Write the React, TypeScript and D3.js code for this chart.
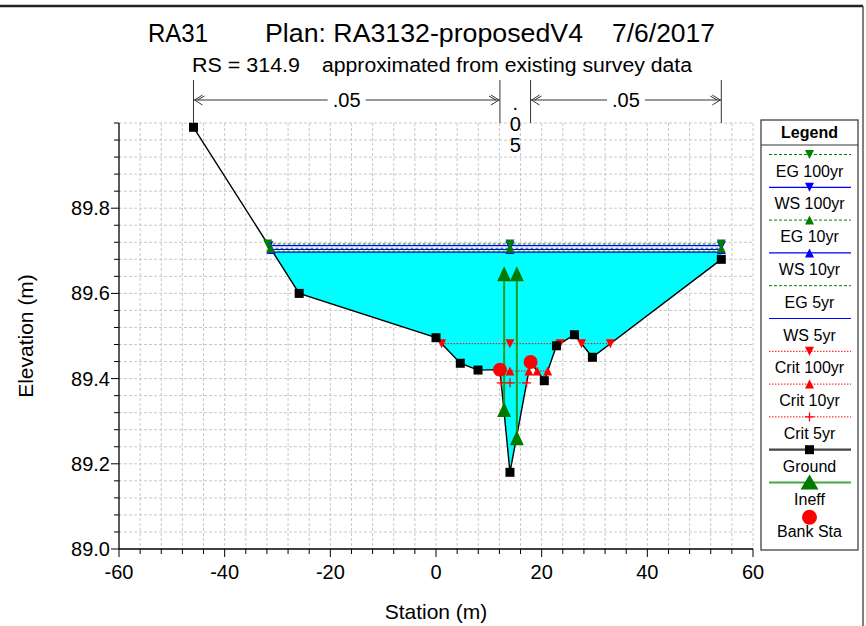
import React from 'react';
import * as d3 from 'd3';

// ground survey points (station m, elevation m)
const groundSta = [-45.9, -25.9, 0, 4.6, 7.95, 12.1, 14.0, 17.9, 20.5, 22.8, 26.2, 29.6, 54.0];
const groundElev = [89.99, 89.6, 89.496, 89.436, 89.42, 89.421, 89.18, 89.439, 89.395, 89.477, 89.503, 89.45, 89.68];

const bankSta = [12.1, 17.9];
const bankElev = [89.421, 89.439];

// water surface / energy / critical profiles
const profileNames = ['EG 100yr', 'WS 100yr', 'EG 10yr', 'WS 10yr', 'EG 5yr', 'WS 5yr', 'Crit 100yr', 'Crit 10yr', 'Crit 5yr'];
const profileElev = [89.716, 89.712, 89.706, 89.703, 89.699, 89.697, 89.482, 89.418, 89.39];

// ineffective flow limits
const ineffSta = [12.9, 15.3];
const ineffTop = [89.645, 89.645];
const ineffBottom = [89.326, 89.26];

// Manning's n breaks
const nSta = [-45.9, 12.1, 17.9, 54.0];
const nValues = ['.05', '.05', '.05'];

const xTicks = [-60, -40, -20, 0, 20, 40, 60];
const yTicks = [89.0, 89.2, 89.4, 89.6, 89.8];

type Marker = 'down' | 'up' | 'plus' | 'none';
const profileStyle: Record<string, { color: string; dash: string; width: number; marker: Marker }> = {
  'EG 100yr': { color: '#008000', dash: '3,2', width: 1, marker: 'down' },
  'WS 100yr': { color: '#0000ff', dash: '', width: 1.2, marker: 'down' },
  'EG 10yr': { color: '#008000', dash: '3,2', width: 1, marker: 'up' },
  'WS 10yr': { color: '#0000ff', dash: '', width: 1.2, marker: 'up' },
  'EG 5yr': { color: '#008000', dash: '3,2', width: 1, marker: 'none' },
  'WS 5yr': { color: '#0000ff', dash: '', width: 1.2, marker: 'none' },
  'Crit 100yr': { color: '#ff0000', dash: '1.5,1.5', width: 1, marker: 'down' },
  'Crit 10yr': { color: '#ff0000', dash: '1.5,1.5', width: 1, marker: 'up' },
  'Crit 5yr': { color: '#ff0000', dash: '1.5,1.5', width: 1, marker: 'plus' },
};

const FONT = '"Liberation Sans", Arial, sans-serif';
const W = 866;
const H = 626;
const plot = { left: 119, right: 753, top: 123, bottom: 549 };

const x = d3.scaleLinear().domain([-60, 60]).range([plot.left, plot.right]);
const y = d3.scaleLinear().domain([89, 90]).range([plot.bottom, plot.top]);

const groundAt = (s: number) => {
  for (let i = 0; i < groundSta.length - 1; i++) {
    if (s >= groundSta[i] && s <= groundSta[i + 1]) {
      const t = (s - groundSta[i]) / (groundSta[i + 1] - groundSta[i]);
      return groundElev[i] + t * (groundElev[i + 1] - groundElev[i]);
    }
  }
  return groundElev[groundElev.length - 1];
};

// parts of the section where the ground is below a given elevation
function wetSegments(elev: number): [number, number][] {
  const segs: [number, number][] = [];
  let start: number | null = groundElev[0] < elev ? groundSta[0] : null;
  for (let i = 0; i < groundSta.length - 1; i++) {
    const z0 = groundElev[i];
    const z1 = groundElev[i + 1];
    if ((z0 - elev) * (z1 - elev) < 0) {
      const xc = groundSta[i] + ((elev - z0) / (z1 - z0)) * (groundSta[i + 1] - groundSta[i]);
      if (z0 > elev) start = xc;
      else {
        segs.push([start as number, xc]);
        start = null;
      }
    }
  }
  if (start !== null) segs.push([start, groundSta[groundSta.length - 1]]);
  return segs;
}

const thalweg = groundSta[d3.minIndex(groundElev)];

function MarkerShape({ type, cx, cy, size, color }: { type: Marker; cx: number; cy: number; size: number; color: string }) {
  const h = size / 2;
  if (type === 'down') return <path d={`M${cx - h},${cy - h} L${cx + h},${cy - h} L${cx},${cy + h} Z`} fill={color} />;
  if (type === 'up') return <path d={`M${cx - h},${cy + h} L${cx + h},${cy + h} L${cx},${cy - h} Z`} fill={color} />;
  if (type === 'plus')
    return <path d={`M${cx - h},${cy} L${cx + h},${cy} M${cx},${cy - h} L${cx},${cy + h}`} stroke={color} strokeWidth={1.3} />;
  return null;
}

const line = d3.line<[number, number]>().x((d) => x(d[0])).y((d) => y(d[1]));

export default function App() {
  const xMinor = d3.range(-60, 60.001, 4);
  const yMinor = d3.range(89, 90.001, 0.04);

  // water fill below the lowest water surface
  const fillElev = profileElev[profileNames.indexOf('WS 5yr')];
  const fills = wetSegments(fillElev).map(([a, b]) => {
    const pts: [number, number][] = [[a, fillElev], [b, fillElev], [b, groundAt(b)]];
    for (let i = groundSta.length - 1; i >= 0; i--) {
      if (groundSta[i] > a && groundSta[i] < b) pts.push([groundSta[i], groundElev[i]]);
    }
    pts.push([a, groundAt(a)]);
    return line(pts) + 'Z';
  });

  const groundPts = groundSta.map((s, i) => [s, groundElev[i]] as [number, number]);

  const legendX0 = 761;
  const legendX1 = 858;
  const legendCx = (legendX0 + legendX1) / 2;
  const legendItems = [...profileNames, 'Ground', 'Ineff', 'Bank Sta'];

  const nY = 100;

  // WS drawn first so the EG markers sit on top
  const drawOrder = ['WS 5yr', 'EG 5yr', 'WS 10yr', 'WS 100yr', 'EG 10yr', 'EG 100yr', 'Crit 100yr', 'Crit 10yr', 'Crit 5yr'];

  return (
    <svg width={W} height={H} style={{ position: 'absolute', left: 0, top: 0, background: '#fff' }} fontFamily={FONT}>
      <rect x={0} y={0} width={W} height={H} fill="#fff" />
      {/* window frame */}
      <line x1={0} x2={863} y1={6} y2={6} stroke="#222" strokeWidth={2.5} />
      <line x1={863} x2={863} y1={6} y2={H} stroke="#555" strokeWidth={1.5} />

      {/* titles */}
      <g fontSize={26} fill="#000">
        <text x={148} y={42} textLength={60} lengthAdjust="spacingAndGlyphs">RA31</text>
        <text x={265} y={42} textLength={318} lengthAdjust="spacingAndGlyphs">Plan: RA3132-proposedV4</text>
        <text x={612} y={42} textLength={103} lengthAdjust="spacingAndGlyphs">7/6/2017</text>
      </g>
      <g fontSize={20} fill="#000">
        <text x={192} y={72} textLength={108} lengthAdjust="spacingAndGlyphs">RS = 314.9</text>
        <text x={322} y={72} textLength={370} lengthAdjust="spacingAndGlyphs">approximated from existing survey data</text>
      </g>

      {/* grid */}
      <g stroke="#c8c8c8" strokeWidth={1} strokeDasharray="3,2">
        {xMinor.filter((v) => v > -60).map((v) => (
          <line key={'gx' + v} x1={x(v)} x2={x(v)} y1={plot.top} y2={plot.bottom} />
        ))}
        {yMinor.filter((v) => v > 89.001).map((v) => (
          <line key={'gy' + v} x1={plot.left} x2={plot.right} y1={y(v)} y2={y(v)} />
        ))}
      </g>

      {/* water fill */}
      {fills.map((d, i) => (
        <path key={'f' + i} d={d} fill="#00ffff" />
      ))}

      {/* ground */}
      <path d={line(groundPts) || ''} fill="none" stroke="#000" strokeWidth={1.4} />

      {/* WS / EG / Crit lines */}
      {drawOrder.map((name) => {
        const st = profileStyle[name];
        const elev = profileElev[profileNames.indexOf(name)];
        const segs = wetSegments(elev);
        const marks: number[] = [];
        segs.forEach(([a, b]) => {
          marks.push(a, b);
          if (thalweg > a && thalweg < b) marks.push(thalweg);
        });
        return (
          <g key={name}>
            {segs.map(([a, b], j) => (
              <line key={j} x1={x(a)} x2={x(b)} y1={y(elev)} y2={y(elev)} stroke={st.color} strokeWidth={st.width} strokeDasharray={st.dash || undefined} />
            ))}
            {marks.map((m, j) => (
              <MarkerShape key={'m' + j} type={st.marker} cx={x(m)} cy={y(elev)} size={9} color={st.color} />
            ))}
          </g>
        );
      })}

      {/* ground points */}
      {groundPts.map(([s, e], i) => (
        <rect key={'g' + i} x={x(s) - 4.5} y={y(e) - 4.5} width={9} height={9} fill="#000" />
      ))}

      {/* ineffective flow */}
      {ineffSta.map((s, i) => (
        <g key={'in' + i}>
          <line x1={x(s)} x2={x(s)} y1={y(ineffTop[i])} y2={y(ineffBottom[i])} stroke="#1f9a1f" strokeWidth={2} />
          <path d={`M${x(s) - 7},${y(ineffTop[i]) + 7} L${x(s) + 7},${y(ineffTop[i]) + 7} L${x(s)},${y(ineffTop[i]) - 8} Z`} fill="#007a00" />
          <path d={`M${x(s) - 7},${y(ineffBottom[i]) + 7} L${x(s) + 7},${y(ineffBottom[i]) + 7} L${x(s)},${y(ineffBottom[i]) - 8} Z`} fill="#007a00" />
        </g>
      ))}

      {/* bank stations */}
      {bankSta.map((s, i) => (
        <circle key={'b' + i} cx={x(s)} cy={y(bankElev[i])} r={7} fill="#ff0000" />
      ))}

      {/* axes */}
      <g stroke="#000">
        <line x1={plot.left} x2={plot.left} y1={plot.top} y2={plot.bottom} strokeWidth={1.3} />
        <line x1={plot.left} x2={plot.right} y1={plot.bottom} y2={plot.bottom} strokeWidth={1.3} />
        {xMinor.map((v) => (
          <line key={'tx' + v} x1={x(v)} x2={x(v)} y1={plot.bottom} y2={plot.bottom + (xTicks.includes(Math.round(v)) ? 8 : 5)} strokeWidth={1} />
        ))}
        {yMinor.map((v) => (
          <line key={'ty' + v} x1={plot.left - (yTicks.some((t) => Math.abs(t - v) < 1e-6) ? 8 : 5)} x2={plot.left} y1={y(v)} y2={y(v)} strokeWidth={1} />
        ))}
      </g>
      <g fontSize={20} fill="#000">
        {xTicks.map((v) => (
          <text key={'lx' + v} x={x(v)} y={plot.bottom + 30} textAnchor="middle">{v}</text>
        ))}
        {yTicks.map((v) => (
          <text key={'ly' + v} x={plot.left - 9} y={y(v) + 7} textAnchor="end">{v.toFixed(1)}</text>
        ))}
      </g>
      <text x={436} y={619} fontSize={21} textAnchor="middle">Station (m)</text>
      <text transform={`translate(33,${(plot.top + plot.bottom) / 2}) rotate(-90)`} fontSize={21} textAnchor="middle">Elevation (m)</text>

      {/* Manning's n brackets */}
      <g stroke="#333" strokeWidth={1} fill="none">
        {nSta.map((s, i) => (
          <line key={'nv' + i} x1={x(s)} x2={x(s)} y1={80} y2={plot.top} />
        ))}
        {nValues.map((n, i) => {
          const a = x(nSta[i]);
          const b = x(nSta[i + 1]);
          if (b - a < 50) return null;
          return (
            <g key={'nh' + i}>
              <line x1={a} x2={b} y1={nY} y2={nY} />
              <path d={`M${a + 9},${nY - 5} L${a + 1},${nY} L${a + 9},${nY + 5} M${a + 11},${nY - 4} L${a + 4},${nY}`} />
              <path d={`M${b - 9},${nY - 5} L${b - 1},${nY} L${b - 9},${nY + 5} M${b - 11},${nY - 4} L${b - 4},${nY}`} />
            </g>
          );
        })}
      </g>
      <g fontSize={20} fill="#000" textAnchor="middle">
        {nValues.map((n, i) => {
          const a = x(nSta[i]);
          const b = x(nSta[i + 1]);
          const c = (a + b) / 2;
          if (b - a < 50) {
            return (
              <g key={'nt' + i}>
                {n.split('').map((ch, k) => (
                  <text key={k} x={c} y={nY + 10 + k * 21}>{ch}</text>
                ))}
              </g>
            );
          }
          return (
            <g key={'nt' + i}>
              <rect x={c - 19} y={nY - 10} width={38} height={20} fill="#fff" />
              <text x={c} y={nY + 7}>{n}</text>
            </g>
          );
        })}
      </g>

      {/* legend */}
      <rect x={legendX0} y={120} width={legendX1 - legendX0} height={430} fill="#fff" stroke="#333" strokeWidth={1.2} />
      <line x1={legendX0} x2={legendX1} y1={145} y2={145} stroke="#333" strokeWidth={1.2} />
      <text x={legendCx} y={138} fontSize={16} fontWeight="bold" textAnchor="middle">Legend</text>
      {legendItems.map((name, i) => {
        const ly = 154.5 + i * 32.8;
        const lx0 = 769;
        const lx1 = 851;
        let sample: React.ReactNode = null;
        if (profileStyle[name]) {
          const st = profileStyle[name];
          sample = (
            <g>
              <line x1={lx0} x2={lx1} y1={ly} y2={ly} stroke={st.color} strokeWidth={st.width} strokeDasharray={st.dash || undefined} />
              <MarkerShape type={st.marker} cx={legendCx} cy={ly} size={9} color={st.color} />
            </g>
          );
        } else if (name === 'Ground') {
          sample = (
            <g>
              <line x1={lx0} x2={lx1} y1={ly} y2={ly} stroke="#444" strokeWidth={2.2} />
              <rect x={legendCx - 4.5} y={ly - 4.5} width={9} height={9} fill="#000" />
            </g>
          );
        } else if (name === 'Ineff') {
          sample = (
            <g>
              <line x1={lx0} x2={lx1} y1={ly} y2={ly} stroke="#44a844" strokeWidth={2} />
              <path d={`M${legendCx - 9},${ly + 7} L${legendCx + 9},${ly + 7} L${legendCx},${ly - 8} Z`} fill="#007a00" />
            </g>
          );
        } else {
          sample = <circle cx={legendCx} cy={ly + 2} r={7.5} fill="#ff0000" />;
        }
        return (
          <g key={'lg' + name}>
            {sample}
            <text x={legendCx} y={ly + 22} fontSize={16} textAnchor="middle">{name}</text>
          </g>
        );
      })}
    </svg>
  );
}
